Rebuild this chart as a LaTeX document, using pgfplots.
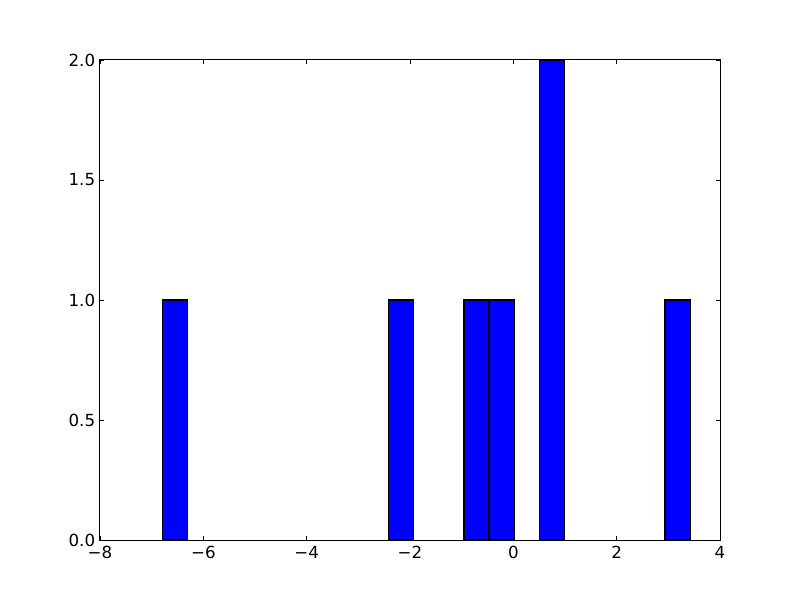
\documentclass[border=0pt]{standalone}
\usepackage{pgfplots}
\pgfplotsset{compat=1.18}
\usepackage{fontspec}
\setmainfont{DejaVu Sans}
\begin{document}
\begin{tikzpicture}
\path[use as bounding box] (-72bp,-43.2bp) rectangle (504bp,388.8bp);
\begin{axis}[
  at={(0,0)}, anchor=south west,
  scale only axis, width=446.4bp, height=345.6bp,
  xmin=-8, xmax=4, ymin=0, ymax=2,
  xtick={-8,-6,-4,-2,0,2,4},
  xticklabels={−8,−6,−4,−2,0,2,4},
  ytick={0,0.5,1,1.5,2},
  yticklabels={0.0,0.5,1.0,1.5,2.0},
  tick align=inside, tickwidth=2.9bp,
  xtick pos=both, ytick pos=both,
  tick style={black, line width=0.5bp},
  axis line style={line width=0.72bp},
  ticklabel style={font=\fontsize{12bp}{14bp}\selectfont},
  xticklabel style={yshift=-1bp},
]
\addplot[ybar, bar width=0.4866, bar shift=0pt, fill={rgb,255:red,0;green,0;blue,255}, draw=black, line width=1.1bp] coordinates {
(-6.5505,1) (-2.1715,1) (-0.7115,1) (-0.2250,1) (0.7485,2) (3.1815,1)
};
\end{axis}
\end{tikzpicture}
\end{document}
